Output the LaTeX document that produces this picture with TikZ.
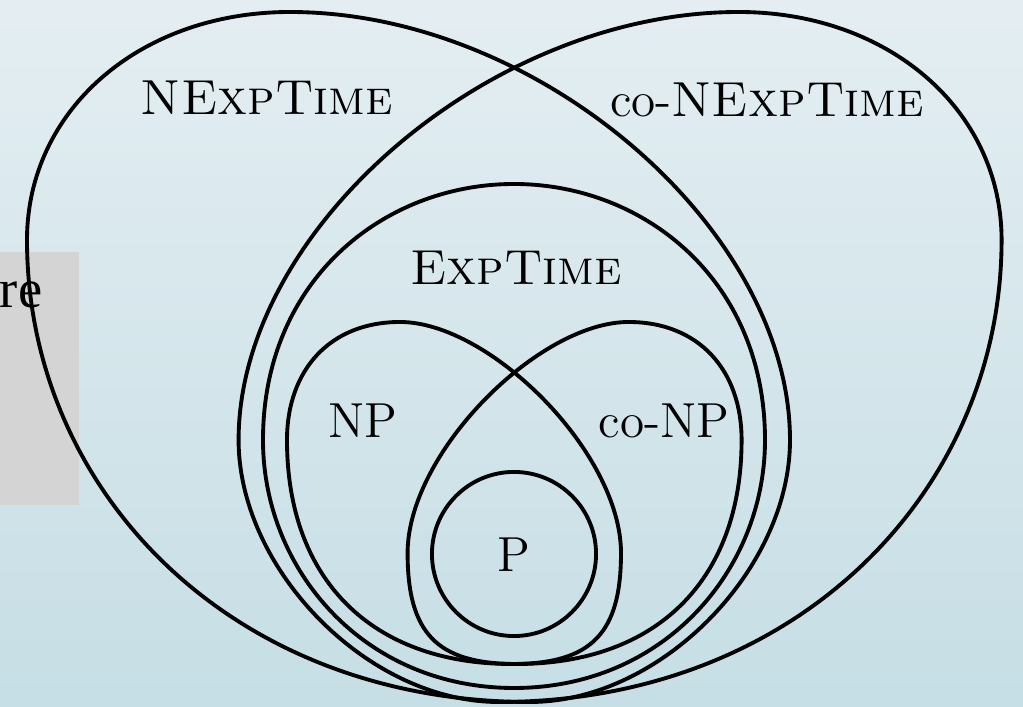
\documentclass[tikz,border=0pt]{standalone}
\usepackage{fontspec}
\newfontfamily\pagefont{Liberation Serif}
\definecolor{bgtop}{HTML}{E4EEF2}
\definecolor{bgbottom}{HTML}{C6DEE5}
\definecolor{panelgrey}{HTML}{D4D4D4}

\begin{document}
\begin{tikzpicture}[x=0.01cm,y=-0.01cm,
    classline/.style={line width=1.1pt,black},
    classlabel/.style={inner sep=0pt,font=\fontsize{14}{17}\selectfont}]
  % page background
  \useasboundingbox (0,0) rectangle (1023,707);
  \shade[top color=bgtop,bottom color=bgbottom] (0,0) rectangle (1023,707);
  \fill[panelgrey] (0,252) rectangle (79,505);
  \node[anchor=base east,inner sep=0pt,font=\pagefont\fontsize{15.5}{18}\selectfont] (cut) at (43,308) {re};

  % NExpTime / NP and their mirror images co-NExpTime / co-NP
  \foreach \flip/\shift in {1/0cm,-1/10.28cm}{
    \begin{scope}[xshift=\shift,xscale=\flip]
      \draw[classline] (290,12) .. controls (540,12) and (790,230) .. (790,440)
        .. controls (790,570) and (660,702) .. (530,702)
        .. controls (230,702) and (27,490) .. (27,240)
        .. controls (27,110) and (140,12) .. cycle;
      \draw[classline] (400,322) .. controls (490,322) and (621,453) .. (621,553)
        .. controls (621,633) and (592,664) .. (512,664)
        .. controls (372,664) and (287,580) .. (287,440)
        .. controls (287,370) and (330,322) .. cycle;
    \end{scope}
  }

  % ExpTime
  \draw[classline] (514,184) .. controls (644,184) and (765,280) .. (765,440)
    .. controls (765,570) and (664,688) .. (514,688)
    .. controls (364,688) and (263,570) .. (263,440)
    .. controls (263,280) and (384,184) .. cycle;

  % P
  \draw[classline] (514,554) circle[radius=0.82cm];

  % labels
  \node[classlabel] (nexp) at (267,98) {\textsc{NExpTime}};
  \node[classlabel] (conexp) at (767,100) {co-\textsc{NExpTime}};
  \node[classlabel] (exp) at (516,268) {\textsc{ExpTime}};
  \node[classlabel] (np) at (363,421) {NP};
  \node[classlabel] (conp) at (664,421) {co-NP};
  \node[classlabel] (p) at (514,555) {P};
\end{tikzpicture}
\end{document}
